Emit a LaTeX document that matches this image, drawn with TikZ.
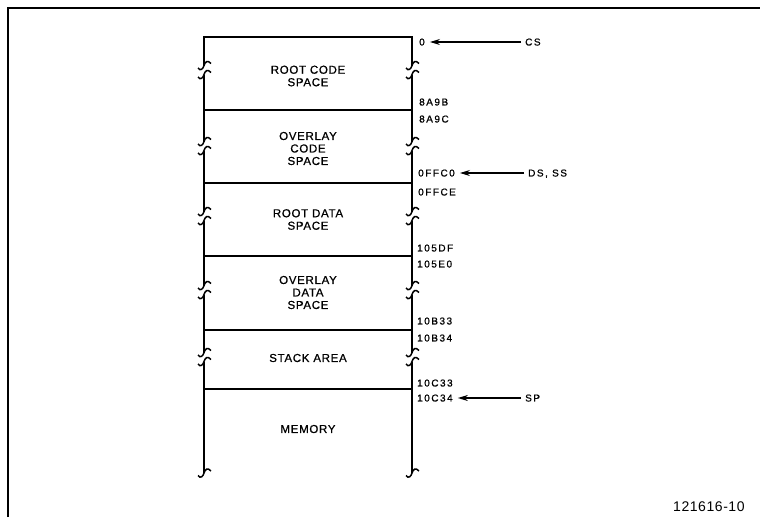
\documentclass[tikz,border=0pt]{standalone}
\usepackage{fontspec}
\setmainfont{Liberation Sans}
\newfontfamily\boxfont[LetterSpace=6,FakeBold=0.8]{Liberation Sans}
\newfontfamily\adrfont[LetterSpace=15,FakeBold=0.8]{Liberation Sans}
\newfontfamily\idfont[LetterSpace=4]{Liberation Sans}
\usetikzlibrary{arrows.meta}
\tikzset{
  brk/.pic={\draw[line width=1.5pt] (-6,2.5) .. controls (-3.5,6) and (-1,3.5) .. (0,0) .. controls (1,-3.5) and (3.5,-6) .. (7,-2);}
}

\begin{document}
\begin{tikzpicture}[x=1pt,y=-1pt,
    side/.style={line width=2.8pt},
    divider/.style={line width=1.4pt},
    boxtext/.style={align=center,inner sep=0pt,font=\boxfont\fontsize{11.5}{12.5}\selectfont},
    adr/.style={anchor=west,inner sep=0pt,text depth=0pt,font=\adrfont\fontsize{10}{11}\selectfont},
    ptr/.style={line width=1.2pt,-{Stealth[length=10pt,width=6pt]},shorten >=5pt,shorten <=4pt}]
    \useasboundingbox (0,0) rectangle (760,517);
    %%Frame
    \draw[line width=1.8pt] (8,517) -- (8,8) -- (760,8);
    %%Memory column
    \draw[side] (204,65.5) -- (204,37) -- (412,37) -- (412,65.5);
    \foreach \a/\b in {74.5/141.5, 150.5/211.5, 220.5/285.5, 294.5/352.5, 361.5/473}
      \draw[side] (204,\a) -- (204,\b) (412,\a) -- (412,\b);
    \foreach \c in {65.5,74.5,141.5,150.5,211.5,220.5,285.5,294.5,352.5,361.5,473}
      \path (204,\c) pic{brk} (412,\c) pic{brk};
    \foreach \y in {110,183,256,330,389}
      \draw[divider] (204,\y) -- (412,\y);
    %%Areas
    \node[boxtext] (rootcode) at (308,76) {ROOT CODE\\SPACE};
    \node[boxtext] (ovlcode) at (308,148.5) {OVERLAY\\CODE\\SPACE};
    \node[boxtext] (rootdata) at (308,219.5) {ROOT DATA\\SPACE};
    \node[boxtext] (ovldata) at (308,292.5) {OVERLAY\\DATA\\SPACE};
    \node[boxtext] (stack) at (308,358) {STACK AREA};
    \node[boxtext] (memory) at (308,429) {MEMORY};
    %%Addresses
    \node[adr] (a0) at (419,42) {0};
    \node[adr] (a8A9B) at (419,102) {8A9B};
    \node[adr] (a8A9C) at (419,119) {8A9C};
    \node[adr] (a0FFC0) at (418,173) {0FFC0};
    \node[adr] (a0FFCE) at (418,192) {0FFCE};
    \node[adr] (a105DF) at (417,248) {105DF};
    \node[adr] (a105E0) at (417,264) {105E0};
    \node[adr] (a10B33) at (417,321) {10B33};
    \node[adr] (a10B34) at (417,338) {10B34};
    \node[adr] (a10C33) at (417,383) {10C33};
    \node[adr] (a10C34) at (417,398) {10C34};
    %%Registers
    \node[adr] (cs) at (525,42) {CS};
    \node[adr] (dsss) at (528,173) {DS, SS};
    \node[adr] (sp) at (525,398) {SP};
    \draw[ptr] (cs) -- (a0);
    \draw[ptr] (dsss) -- (a0FFC0);
    \draw[ptr] (sp) -- (a10C34);
    %%Figure number
    \node[anchor=west,inner sep=0pt,font=\idfont\fontsize{14}{16}\selectfont] (figid) at (673,507) {121616-10};
\end{tikzpicture}
\end{document}
